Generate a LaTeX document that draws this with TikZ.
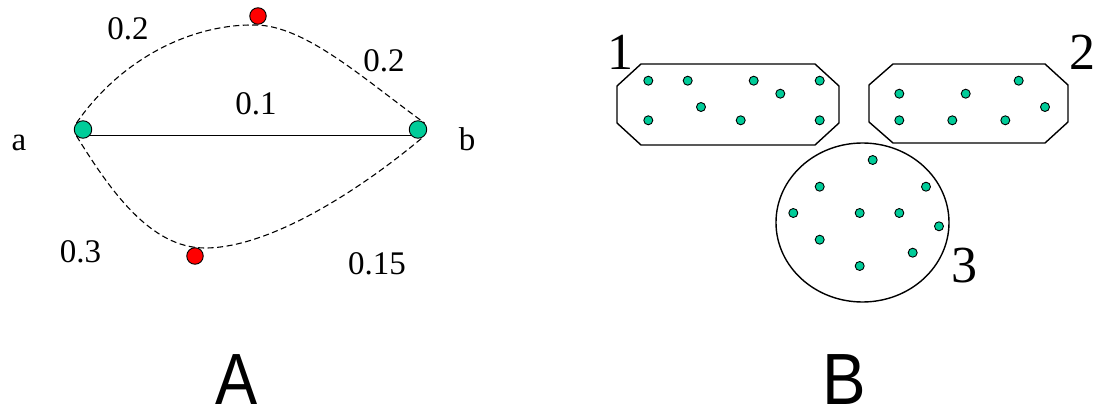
\documentclass[tikz,border=0pt]{standalone}
\usepackage{fontspec}
\setmainfont{Liberation Serif}
\newfontfamily\labserif{Liberation Serif}
\newfontfamily\labsans{Liberation Sans}
\definecolor{dotgreen}{RGB}{0,204,153}
\definecolor{dotred}{RGB}{255,0,0}
\begin{document}
\begin{tikzpicture}[x=1pt,y=-1pt,
  gnode/.style={circle,draw=black,line width=0.9pt,fill=dotgreen,minimum size=17.5pt,inner sep=0pt},
  rnode/.style={circle,draw=black,line width=0.9pt,fill=dotred,minimum size=16.5pt,inner sep=0pt},
  pt/.style={circle,draw=black,line width=0.9pt,fill=dotgreen,minimum size=9pt,inner sep=0pt},
  edgelab/.style={font=\labserif\fontsize{33}{38}\selectfont,anchor=base,inner sep=0pt},
  grouplab/.style={font=\labserif\fontsize{52}{60}\selectfont,anchor=base,inner sep=0pt},
  biglab/.style={font=\labsans\fontsize{72.6}{80}\selectfont,anchor=base,inner sep=0pt},
  dashedge/.style={dash pattern=on 6pt off 3.5pt,line width=1.1pt},
  outline/.style={draw=black,line width=1.4pt}]
\useasboundingbox (0,0) rectangle (1096,409);

% ---------- Part A ----------
\node[gnode] (a) at (83,129.5) {};
\node[gnode] (b) at (418,129.5) {};
\node[rnode] (r1) at (258,16) {};
\node[rnode] (r2) at (195,256) {};
\coordinate (top) at (255,25);
\coordinate (bot) at (205,248);

\draw[line width=1.4pt] (a.-40) -- (b.220);
\draw[dashedge] (a.135) .. controls (120,60) and (190,24) .. (top)
  .. controls (305,25) and (365,80) .. (b.45);
\draw[dashedge] (a.225) .. controls (110,190) and (150,248) .. (bot)
  .. controls (270,248) and (360,190) .. (b.-60);

\node[edgelab] (l1) at (128,40) {0.2};
\node[edgelab] (l2) at (384,72) {0.2};
\node[edgelab] (l3) at (256,115) {0.1};
\node[edgelab] (la) at (19,151) {a};
\node[edgelab] (lb) at (467,151) {b};
\node[edgelab] (l4) at (80.5,262) {0.3};
\node[edgelab] (l5) at (377,274) {0.15};
\node[biglab] (capA) at (236.5,404) {\scalebox{0.87}[1]{A}};

% ---------- Part B ----------
\draw[outline] (641,64) -- (815,64) -- (839,86) -- (839,123) -- (815,145)
  -- (641,145) -- (617,123) -- (617,86) -- cycle;
\draw[outline] (893,64) -- (1045,64) -- (1068,85) -- (1068,122) -- (1045,143)
  -- (893,143) -- (869,122) -- (869,85) -- cycle;
\draw[outline] (862.5,222.5) ellipse [x radius=86.5, y radius=79.5];

\foreach \p in {(648.3,80.7),(687.7,80.7),(753.7,80.7),(819.7,80.7),(780.3,93.7),
  (701,107),(648.3,120.3),(740.7,120.3),(819.7,120.3),
  (1018.7,80.7),(899.3,93.7),(965.7,93.7),(1045,107),(899.3,120.3),(952.3,120.3),(1005.3,120.3),
  (872.7,160),(819.7,186.7),(926,186.7),(793.3,213),(859.7,213),(899.3,213),
  (939,226.3),(819.7,239.7),(912.7,252.7),(859.7,266)}
  \node[pt] at \p {};

\node[grouplab] (g1) at (620,70) {1};
\node[grouplab] (g2) at (1082,70) {2};
\node[grouplab] (g3) at (964,282) {3};
\node[biglab] (capB) at (844,404) {\scalebox{0.9}[1]{B}};
\end{tikzpicture}
\end{document}
